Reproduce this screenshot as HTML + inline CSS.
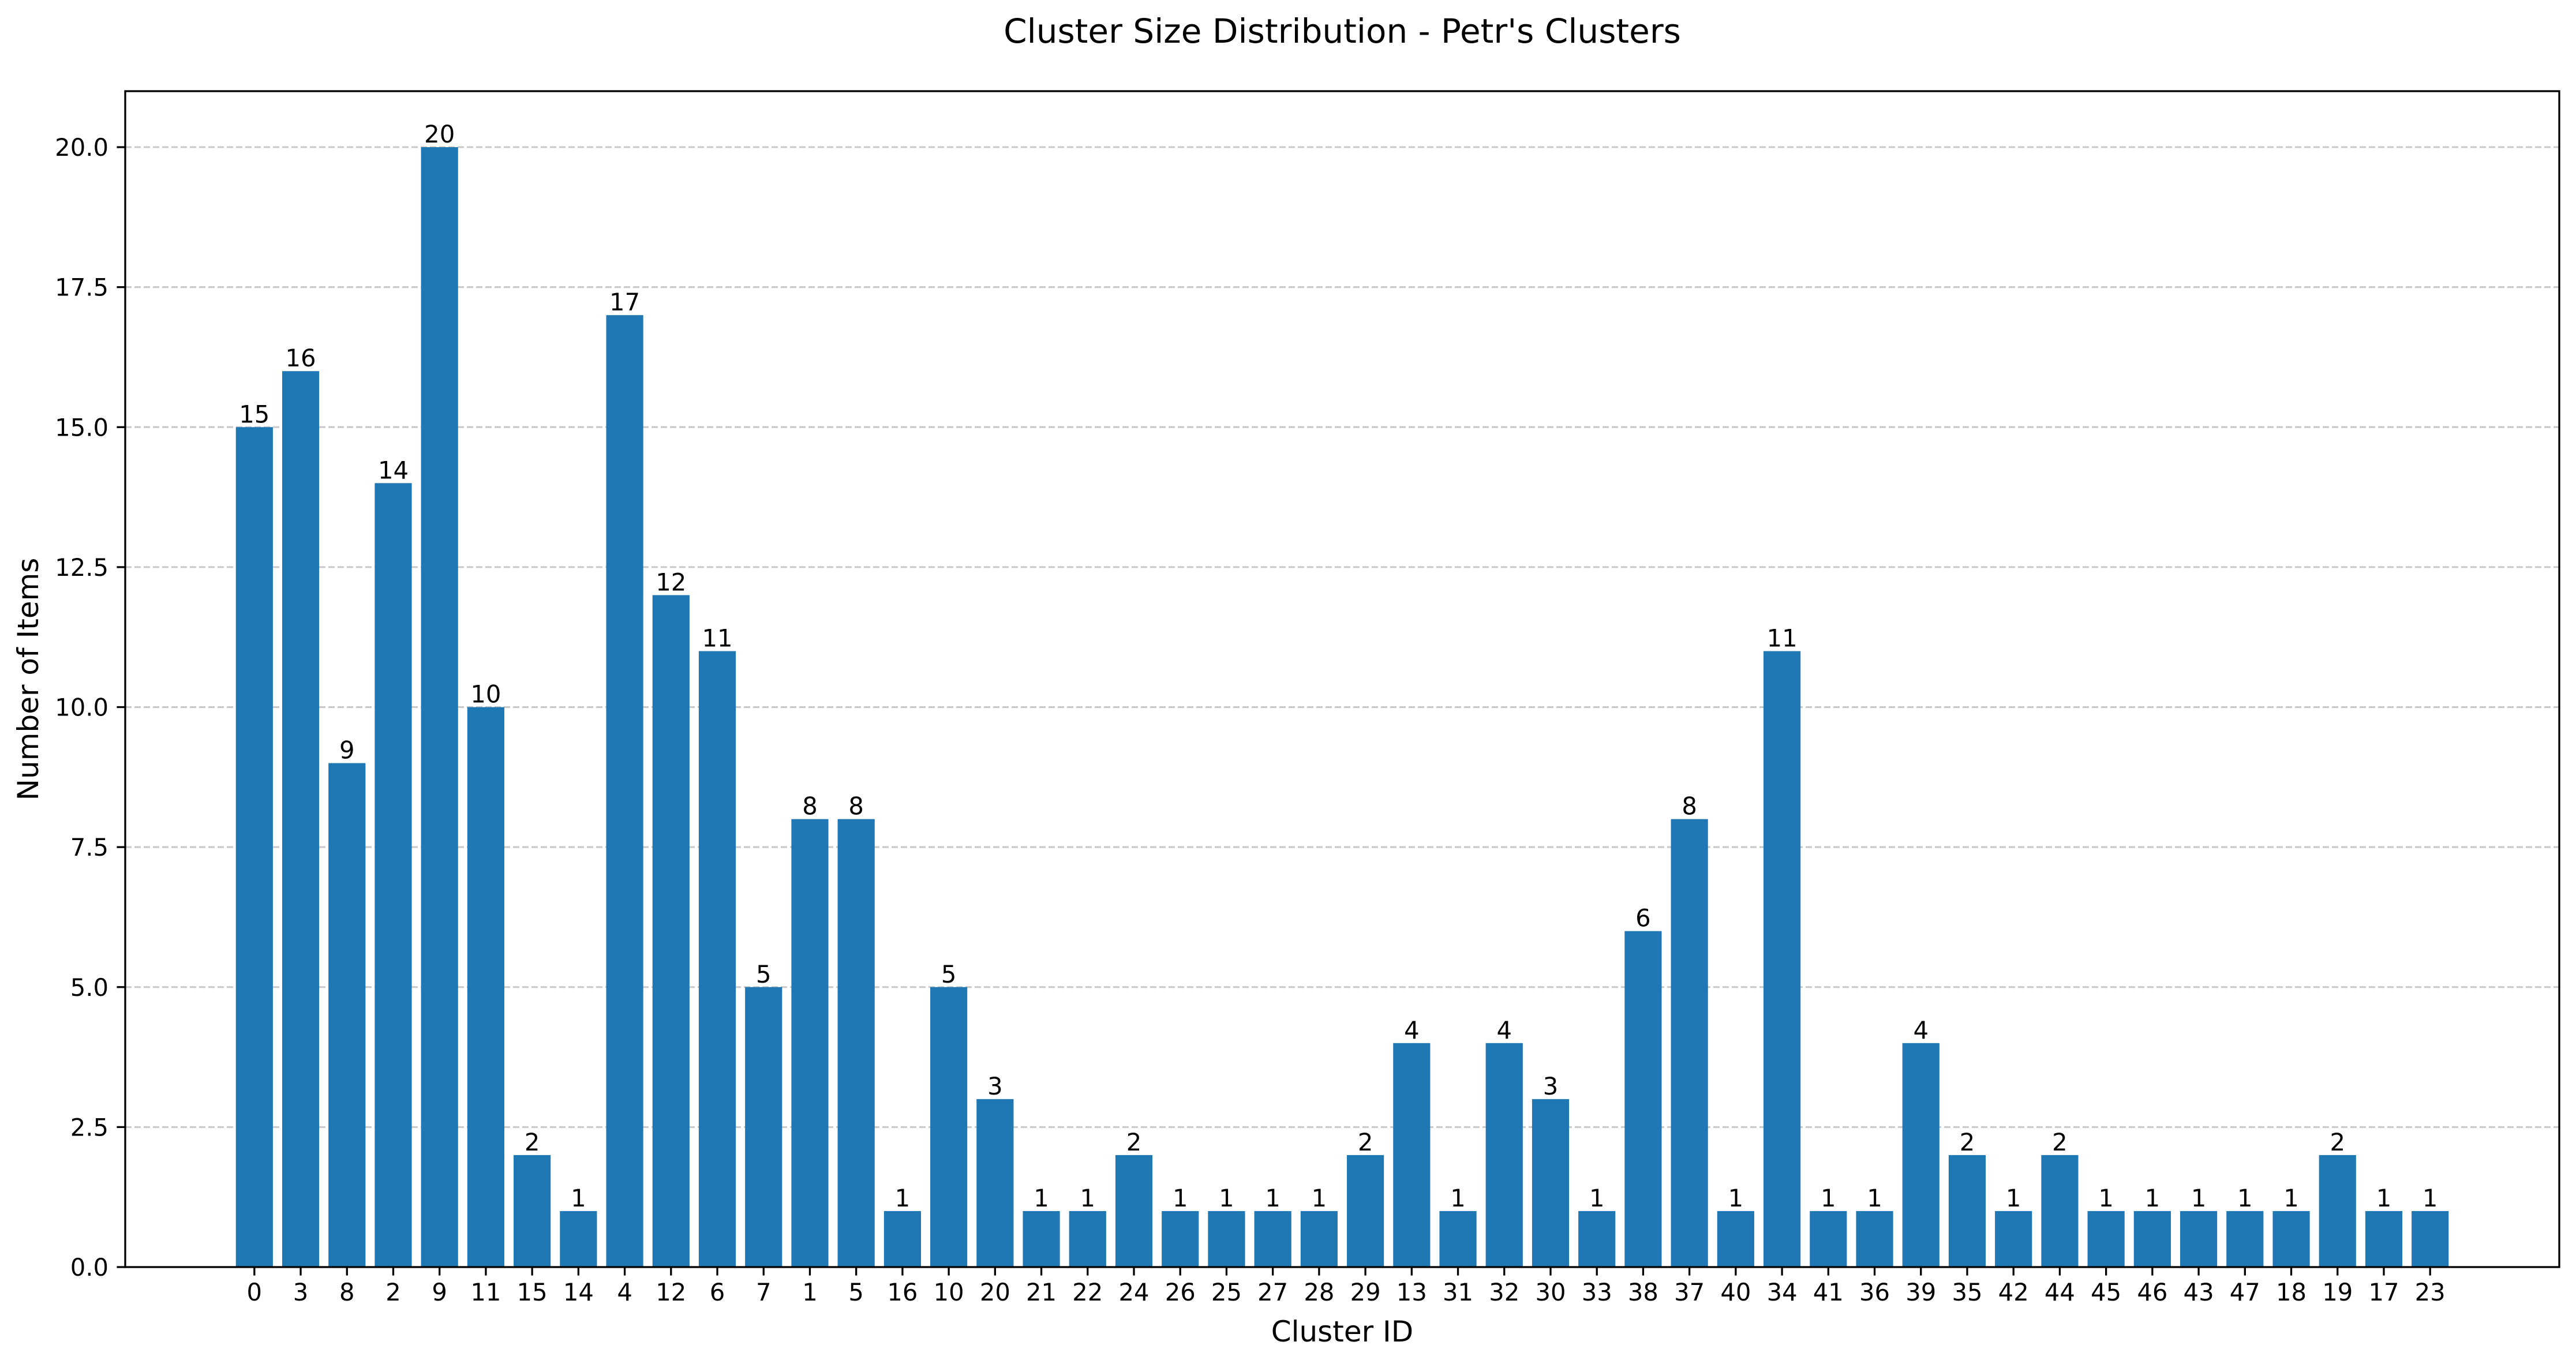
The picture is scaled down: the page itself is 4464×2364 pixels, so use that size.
<!DOCTYPE html>
<html><head><meta charset="utf-8"><style>
html,body{margin:0;padding:0;background:#fff}
svg{display:block}
text{font-family:"DejaVu Sans","Liberation Sans",sans-serif;fill:#000}
</style></head><body>
<svg id="chart" width="4464" height="2364" viewBox="0 0 4464 2364" xmlns="http://www.w3.org/2000/svg">
<rect width="4464" height="2364" fill="#fff"/>
<text x="2326" y="74" font-size="58" text-anchor="middle">Cluster Size Distribution - Petr's Clusters</text>
<text x="2326" y="2325" font-size="50" text-anchor="middle">Cluster ID</text>
<text x="0" y="0" font-size="50" text-anchor="middle" transform="translate(66,1177) rotate(-90)">Number of Items</text>
<g id="grid"></g><g id="bars"></g><g id="labels"></g><g id="axes"></g>
</svg>
<script>
const categories = ["0","3","8","2","9","11","15","14","4","12","6","7","1","5","16","10","20","21","22","24","26","25","27","28","29","13","31","32","30","33","38","37","40","34","41","36","39","35","42","44","45","46","43","47","18","19","17","23"];
const values = [15,16,9,14,20,10,2,1,17,12,11,5,8,8,1,5,3,1,1,2,1,1,1,1,2,4,1,4,3,1,6,8,1,11,1,1,4,2,1,2,1,1,1,1,1,2,1,1];
const yTicks = [0,2.5,5,7.5,10,12.5,15,17.5,20];
const yTickLabels = ["0.0","2.5","5.0","7.5","10.0","12.5","15.0","17.5","20.0"];

const L=217,R=4435,T=158,B=2196;
const yMax=21;
const n=categories.length;
const xMin=-0.4-0.05*(n-0.2), xMax=(n-1)+0.4+0.05*(n-0.2);
const xs=i=>L+(i-xMin)/(xMax-xMin)*(R-L);
const ys=v=>B-v/yMax*(B-T);
const NS="http://www.w3.org/2000/svg";
function mk(tag,attrs,parent){const e=document.createElementNS(NS,tag);for(const k in attrs)e.setAttribute(k,attrs[k]);parent.appendChild(e);return e;}
const grid=document.getElementById('grid'),bars=document.getElementById('bars'),labels=document.getElementById('labels'),axes=document.getElementById('axes');
yTicks.forEach((t,i)=>{
  const y=ys(t);
  if(t>0){const g=mk('line',{x1:L,x2:R,y1:y,y2:y,stroke:'#c8c8c8','stroke-width':3,'stroke-dasharray':'11 5'},grid);
  
  }
  const tk=mk('line',{x1:L-14.6,x2:L,y1:y,y2:y,stroke:'#000','stroke-width':3.3},axes);
  
  
  const tl=mk('text',{x:L-29,y:y+15,'font-size':41.7,'text-anchor':'end'},axes);
  tl.textContent=yTickLabels[i];
  
  
});
categories.forEach((c,i)=>{
  const v=values[i];
  const x0=xs(i-0.4),x1=xs(i+0.4),y=ys(v);
  const b=mk('rect',{x:x0,y:y,width:x1-x0,height:B-y,fill:'#1f77b4'},bars);
  
  
  const vl=mk('text',{x:xs(i),y:y-8,'font-size':41.7,'text-anchor':'middle'},labels);
  vl.textContent=String(v);
  
  
  const tk=mk('line',{x1:xs(i),x2:xs(i),y1:B,y2:B+14.6,stroke:'#000','stroke-width':3.3},axes);
  
  
  const tl=mk('text',{x:xs(i),y:B+58,'font-size':41.7,'text-anchor':'middle'},axes);
  tl.textContent=c;
  
  
});
const fr=mk('rect',{x:L,y:T,width:R-L,height:B-T,fill:'none',stroke:'#000','stroke-width':3.3},axes);


</script>
</body></html>
